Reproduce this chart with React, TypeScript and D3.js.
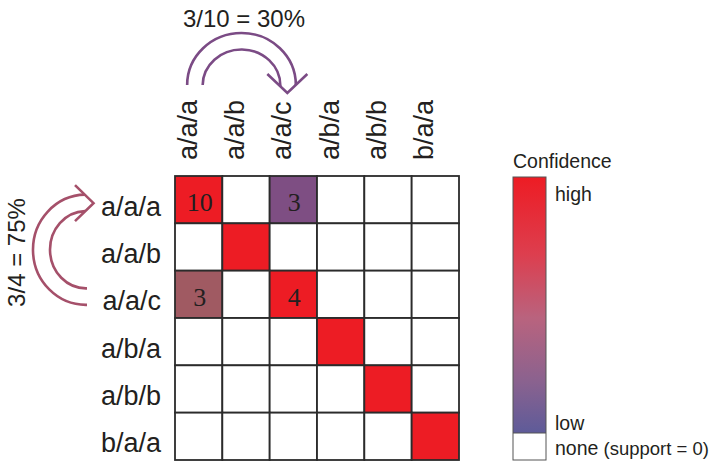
import React from "react";
import * as d3 from "d3";

const categories = ["a/a/a", "a/a/b", "a/a/c", "a/b/a", "a/b/b", "b/a/a"];
// support counts (row -> column), 0 = none
const support = [
  [10, 0, 3, 0, 0, 0],
  [0, 1, 0, 0, 0, 0],
  [3, 0, 4, 0, 0, 0],
  [0, 0, 0, 1, 0, 0],
  [0, 0, 0, 0, 1, 0],
  [0, 0, 0, 0, 0, 1],
];
// confidence of each cell (support / row diagonal)
const confidence = [
  [1, 0, 0.3, 0, 0, 0],
  [0, 1, 0, 0, 0, 0],
  [0.75, 0, 1, 0, 0, 0],
  [0, 0, 0, 1, 0, 0],
  [0, 0, 0, 0, 1, 0],
  [0, 0, 0, 0, 0, 1],
];
// which cells show their count
const shownCounts = [
  [true, false, true, false, false, false],
  [false, false, false, false, false, false],
  [true, false, true, false, false, false],
  [false, false, false, false, false, false],
  [false, false, false, false, false, false],
  [false, false, false, false, false, false],
];
const legendTitle = "Confidence";
const legendHigh = "high";
const legendLow = "low";
const legendNone = "none";
const legendNoneNote = "(support = 0)";

const W = 714;
const H = 464;
const SANS = "'Liberation Sans', Arial, sans-serif";
const SERIF = "'Liberation Serif', 'Times New Roman', serif";
const INK = "#231F20";

export default function App() {
  const x = d3.scaleBand<string>().domain(categories).range([175, 459]);
  const y = d3.scaleBand<string>().domain(categories).range([176, 460]);
  const bw = x.bandwidth();
  const bh = y.bandwidth();
  const color = d3
    .scaleLinear<string>()
    .domain([0, 0.3, 0.75, 1])
    .range(["#5E5B99", "#7E4E83", "#A05A62", "#ED1C24"]);

  const cells: { r: number; c: number }[] = [];
  categories.forEach((_, r) => categories.forEach((__, c) => cells.push({ r, c })));

  const cx = (c: string) => (x(c) as number) + bw / 2;
  const cy = (r: string) => (y(r) as number) + bh / 2;

  // top arrow: a/a/a -> a/a/c
  const tx0 = cx(categories[0]) - 3;
  const tx1 = cx(categories[2]) - 6;
  const tBase = 85;
  const tMid = (tx0 + tx1) / 2;
  const tH = (tx1 - tx0) / 2;
  const tOuter = `M${tMid - (tH + 8.5)},${tBase} A${tH + 8.5},52 0 0 1 ${tMid + tH + 8.5},${tBase}`;
  const tInner = `M${tMid - (tH - 7)},${tBase} A${tH - 7},36 0 0 1 ${tMid + tH - 7},${tBase + 1}`;
  const tHead = `M${tx1 - 20},74 L${tx1},93 L${tx1 + 20},74`;
  const topLabel = `${support[0][2]}/${support[0][0]} = ${Math.round(
    (support[0][2] / support[0][0]) * 100
  )}%`;

  // left arrow: a/a/c -> a/a/a
  const ly0 = cy(categories[2]) + 2;
  const ly1 = cy(categories[0]) + 3.5;
  const lBase = 86;
  const lMid = (ly0 + ly1) / 2;
  const lH = (ly0 - ly1) / 2;
  const lOuter = `M${lBase + 1},${lMid + lH + 8.5} A53,${lH + 8.5} 0 0 1 ${lBase - 1},${lMid - lH - 8.5}`;
  const lInner = `M${lBase + 1},${lMid + lH - 8} A36,${lH - 8} 0 0 1 ${lBase - 1},${lMid - lH + 8}`;
  const lHead = `M75,${ly1 - 18} L93.5,${ly1} L75,${ly1 + 18}`;
  const leftLabel = `${support[2][0]}/${support[2][2]} = ${Math.round(
    (support[2][0] / support[2][2]) * 100
  )}%`;

  const lgX = 513;
  const lgW = 33;
  const lgTop = 177;
  const lgGradBottom = 433;
  const lgBottom = 460;

  return (
    <svg
      width={W}
      height={H}
      style={{ position: "absolute", left: 0, top: 0, background: "#fff" }}
    >
      <defs>
        <linearGradient id="conf" x1="0" y1="0" x2="0" y2="1">
          <stop offset="0" stopColor="#ED1C24" />
          <stop offset="0.3" stopColor="#DD3E4E" />
          <stop offset="0.55" stopColor="#B9637E" />
          <stop offset="0.8" stopColor="#8A628F" />
          <stop offset="1" stopColor="#5E5B99" />
        </linearGradient>
      </defs>

      {/* cells */}
      {cells.map(({ r, c }) => {
        const v = support[r][c];
        return (
          <rect
            key={`c${r}-${c}`}
            x={x(categories[c])}
            y={y(categories[r])}
            width={bw}
            height={bh}
            fill={v > 0 ? color(confidence[r][c]) : "#fff"}
            stroke="#2B2B2B"
            strokeWidth={1.8}
          />
        );
      })}
      {cells
        .filter(({ r, c }) => shownCounts[r][c])
        .map(({ r, c }) => (
          <text
            key={`t${r}-${c}`}
            x={cx(categories[c]) + 1}
            y={cy(categories[r]) + 11.5}
            textAnchor="middle"
            fontFamily={SERIF}
            fontSize={26}
            fill={INK}
          >
            {support[r][c]}
          </text>
        ))}

      {/* row labels */}
      {categories.map((k) => (
        <text
          key={`r${k}`}
          x={161}
          y={cy(k) + 16}
          textAnchor="end"
          fontFamily={SANS}
          fontSize={27}
          fill={INK}
        >
          {k}
        </text>
      ))}
      {/* column labels */}
      {categories.map((k) => (
        <text
          key={`col${k}`}
          transform={`translate(${cx(k) - 2},160) rotate(-90)`}
          textAnchor="start"
          fontFamily={SANS}
          fontSize={27}
          fill={INK}
        >
          {k}
        </text>
      ))}

      {/* top arrow */}
      <g fill="none" stroke="#7B4B85" strokeWidth={2.6} strokeLinejoin="miter">
        <path d={tOuter} />
        <path d={tInner} />
        <path d={tHead} />
      </g>
      <text x={244} y={27} textAnchor="middle" fontFamily={SANS} fontSize={24} fill={INK}>
        {topLabel}
      </text>

      {/* left arrow */}
      <g fill="none" stroke="#A5506A" strokeWidth={2.6} strokeLinejoin="miter">
        <path d={lOuter} />
        <path d={lInner} />
        <path d={lHead} />
      </g>
      <text
        transform={`translate(25,252.5) rotate(-90)`}
        textAnchor="middle"
        fontFamily={SANS}
        fontSize={24}
        fill={INK}
      >
        {leftLabel}
      </text>

      {/* legend */}
      <text x={lgX} y={168} fontFamily={SANS} fontSize={19.5} fill={INK}>
        {legendTitle}
      </text>
      <rect x={lgX} y={lgTop} width={lgW} height={lgGradBottom - lgTop} fill="url(#conf)" />
      <rect x={lgX} y={lgGradBottom} width={lgW} height={lgBottom - lgGradBottom} fill="#fff" />
      <rect
        x={lgX}
        y={lgTop}
        width={lgW}
        height={lgBottom - lgTop}
        fill="none"
        stroke="#555"
        strokeWidth={1}
      />
      <line x1={lgX} x2={lgX + lgW} y1={lgGradBottom} y2={lgGradBottom} stroke="#555" strokeWidth={1} />
      <text x={555} y={201} fontFamily={SANS} fontSize={19.5} fill={INK}>
        {legendHigh}
      </text>
      <text x={555} y={430} fontFamily={SANS} fontSize={19.5} fill={INK}>
        {legendLow}
      </text>
      <text x={555} y={455} fontFamily={SANS} fontSize={19.5} fill={INK}>
        {legendNone}
        <tspan fontSize={18.5}> {legendNoneNote}</tspan>
      </text>
    </svg>
  );
}
